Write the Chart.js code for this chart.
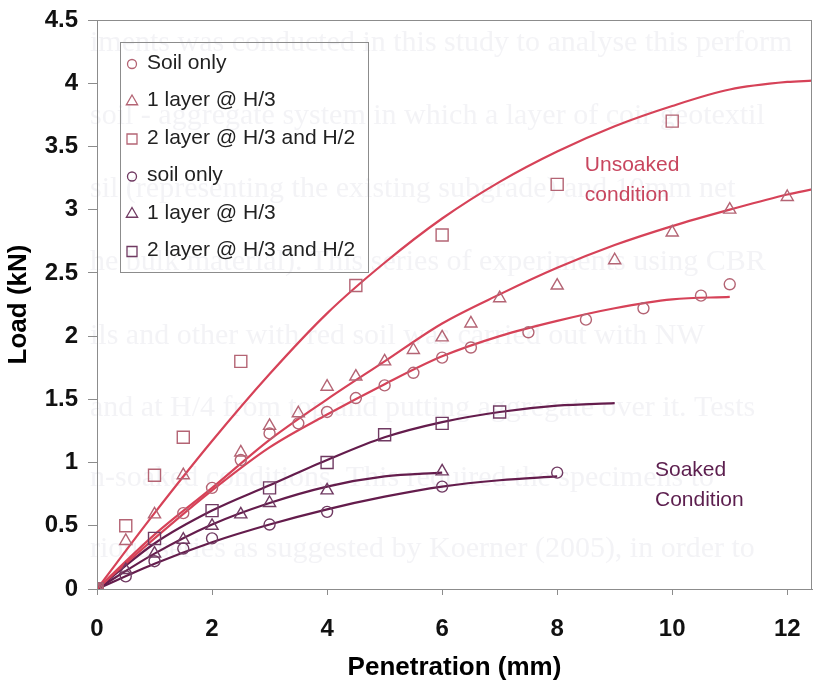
<!DOCTYPE html>
<html>
<head>
<meta charset="utf-8">
<script src="https://cdn.jsdelivr.net/npm/chart.js@4.4.1/dist/chart.umd.min.js"></script>
<style>
  html, body { margin: 0; padding: 0; background: #fff; }
  #wrap { width: 813px; height: 686px; }
</style>
</head>
<body>
<div id="wrap"><canvas id="chart" width="813" height="686"></canvas></div>
<script>
// ---------- measured points: unsoaked condition ----------
const unsoakedSoilX = [0, 1.5, 2, 2.5, 3, 3.5, 4, 4.5, 5, 5.5, 6, 6.5, 7.5, 8.5, 9.5, 10.5, 11];
const unsoakedSoilY = [0, 0.6, 0.8, 1.02, 1.23, 1.31, 1.4, 1.51, 1.61, 1.71, 1.83, 1.91, 2.03, 2.13, 2.22, 2.32, 2.41];
const unsoakedOneX = [0, 0.5, 1, 1.5, 2.5, 3, 3.5, 4, 4.5, 5, 5.5, 6, 6.5, 7, 8, 9, 10, 11, 12];
const unsoakedOneY = [0, 0.38, 0.59, 0.9, 1.08, 1.29, 1.39, 1.6, 1.68, 1.8, 1.89, 1.99, 2.1, 2.3, 2.4, 2.6, 2.82, 3.0, 3.1];
const unsoakedTwoX = [0, 0.5, 1, 1.5, 2.5, 4.5, 6, 8, 10];
const unsoakedTwoY = [0, 0.5, 0.9, 1.2, 1.8, 2.4, 2.8, 3.2, 3.7];

// ---------- measured points: soaked condition ----------
const soakedSoilX = [0, 0.5, 1, 1.5, 2, 3, 4, 6, 8];
const soakedSoilY = [0, 0.1, 0.22, 0.32, 0.4, 0.51, 0.61, 0.81, 0.92];
const soakedOneX = [0, 0.5, 1, 1.5, 2, 2.5, 3, 4, 6];
const soakedOneY = [0, 0.15, 0.28, 0.39, 0.5, 0.59, 0.68, 0.78, 0.93];
const soakedTwoX = [0, 1, 2, 3, 4, 5, 6, 7];
const soakedTwoY = [0, 0.4, 0.62, 0.8, 1.0, 1.22, 1.31, 1.4];

// ---------- fitted trend curves ----------
const unsoakedSoilFitX = [0, 1, 2, 3, 4, 5, 6, 7, 8, 9, 10, 11];
const unsoakedSoilFitY = [0, 0.4, 0.78, 1.12, 1.38, 1.62, 1.84, 2.0, 2.12, 2.22, 2.29, 2.31];
const unsoakedOneFitX = [0, 1, 2, 3, 4, 5, 6, 7, 8, 9, 10, 11, 12, 12.43];
const unsoakedOneFitY = [0, 0.43, 0.8, 1.18, 1.5, 1.8, 2.1, 2.33, 2.54, 2.72, 2.87, 3.0, 3.12, 3.16];
const unsoakedTwoFitX = [0, 1, 2, 3, 4, 5, 6, 7, 8, 9, 10, 11, 12, 12.43];
const unsoakedTwoFitY = [0, 0.6, 1.17, 1.7, 2.18, 2.58, 2.93, 3.22, 3.46, 3.66, 3.82, 3.95, 4.01, 4.02];
const soakedSoilFitX = [0, 1, 2, 3, 4, 5, 6, 7, 8];
const soakedSoilFitY = [0, 0.2, 0.37, 0.51, 0.63, 0.73, 0.81, 0.86, 0.89];
const soakedOneFitX = [0, 1, 2, 3, 4, 5, 6];
const soakedOneFitY = [0, 0.28, 0.51, 0.68, 0.81, 0.89, 0.92];
const soakedTwoFitX = [0, 1, 2, 3, 4, 5, 6, 7, 8, 9];
const soakedTwoFitY = [0, 0.36, 0.62, 0.82, 1.02, 1.2, 1.32, 1.4, 1.45, 1.47];

// axis ranges / ticks
const xMax = 12.43;
const xTicks = [0, 2, 4, 6, 8, 10, 12];
const yMax = 4.5;
const yStep = 0.5;

// faint text showing through from the reverse of the page
const pageTextLines = [
  "iments was conducted in this study to analyse this perform",
  "soil - aggregate system in which a layer of coir geotextil",
  "sil (representing the existing subgrade) and 10mm net",
  "he bulk material). This series of experiments using CBR",
  "ils and other with red soil was carried out with NW",
  "and at H/4 from top and putting aggregate over it. Tests",
  "n-soaked conditions. This required the specimens to",
  "rious series as suggested by Koerner (2005), in order to"
];

// ===============================
// Styles
// ===============================
const FONT = '"Liberation Sans", Arial, sans-serif';
const RED_LINE = "rgb(214, 66, 88)";
const RED_MARK = "rgb(180, 100, 116)";
const PURPLE_LINE = "rgb(100, 28, 76)";
const PURPLE_MARK = "rgb(112, 58, 98)";

const toPoints = (xs, ys) => xs.map((x, i) => ({ x, y: ys[i] }));

const markerSeries = [
  { label: "Soil only", xs: unsoakedSoilX, ys: unsoakedSoilY, style: "circle", color: RED_MARK },
  { label: "1 layer @ H/3", xs: unsoakedOneX, ys: unsoakedOneY, style: "triangle", color: RED_MARK },
  { label: "2 layer @ H/3 and H/2", xs: unsoakedTwoX, ys: unsoakedTwoY, style: "rect", color: RED_MARK },
  { label: "soil only", xs: soakedSoilX, ys: soakedSoilY, style: "circle", color: PURPLE_MARK },
  { label: "1 layer @ H/3", xs: soakedOneX, ys: soakedOneY, style: "triangle", color: PURPLE_MARK },
  { label: "2 layer @ H/3 and H/2", xs: soakedTwoX, ys: soakedTwoY, style: "rect", color: PURPLE_MARK }
];

const fitSeries = [
  { xs: unsoakedSoilFitX, ys: unsoakedSoilFitY, color: RED_LINE },
  { xs: unsoakedOneFitX, ys: unsoakedOneFitY, color: RED_LINE },
  { xs: unsoakedTwoFitX, ys: unsoakedTwoFitY, color: RED_LINE },
  { xs: soakedSoilFitX, ys: soakedSoilFitY, color: PURPLE_LINE },
  { xs: soakedOneFitX, ys: soakedOneFitY, color: PURPLE_LINE },
  { xs: soakedTwoFitX, ys: soakedTwoFitY, color: PURPLE_LINE }
];

const markerRadius = { circle: 5.5, triangle: 7, rect: 8.5 };

const datasets = [];
fitSeries.forEach(s => {
  datasets.push({
    data: toPoints(s.xs, s.ys),
    borderColor: s.color,
    borderWidth: 2.2,
    pointRadius: 0,
    showLine: true,
    cubicInterpolationMode: "monotone",
    fill: false,
    order: 2
  });
});
markerSeries.forEach(s => {
  datasets.push({
    label: s.label,
    data: toPoints(s.xs, s.ys),
    showLine: false,
    pointStyle: s.style,
    pointRadius: markerRadius[s.style],
    pointBorderColor: s.color,
    pointBackgroundColor: "rgba(0,0,0,0)",
    pointBorderWidth: 1.4,
    order: 1,
    isMarker: true
  });
});

// ===============================
// Plugins
// ===============================
const pageBackground = {
  id: "pageBackground",
  beforeDraw(chart) {
    const ctx = chart.ctx;
    ctx.save();
    ctx.fillStyle = "#fff";
    ctx.fillRect(0, 0, chart.width, chart.height);
    ctx.fillStyle = "rgba(150, 145, 170, 0.11)";
    ctx.font = '30px "Liberation Serif", serif';
    ctx.textBaseline = "middle";
    const rows = [43, 116, 189, 262, 336, 408, 478, 549];
    pageTextLines.forEach((t, i) => {
      ctx.fillText(t, 90, rows[i], chart.width - 90);
    });
    ctx.restore();
  }
};

const plotFrame = {
  id: "plotFrame",
  afterDraw(chart) {
    const { ctx, chartArea: a } = chart;
    ctx.save();
    ctx.strokeStyle = "#8c8c8c";
    ctx.lineWidth = 1;
    ctx.strokeRect(a.left + 0.5, a.top + 0.5, a.right - a.left - 1, a.bottom - a.top);
    ctx.restore();
  }
};

const drawMarker = (ctx, style, x, y, r) => {
  ctx.beginPath();
  if (style === "circle") {
    ctx.arc(x, y, r, 0, Math.PI * 2);
  } else if (style === "triangle") {
    ctx.moveTo(x, y - r);
    ctx.lineTo(x + r * 0.866, y + r * 0.5);
    ctx.lineTo(x - r * 0.866, y + r * 0.5);
    ctx.closePath();
  } else {
    ctx.rect(x - r, y - r, r * 2, r * 2);
  }
  ctx.stroke();
};

const boxLegend = {
  id: "boxLegend",
  afterDraw(chart) {
    const ctx = chart.ctx;
    ctx.save();
    ctx.strokeStyle = "#8c8c8c";
    ctx.lineWidth = 1;
    ctx.strokeRect(120.5, 42.5, 248, 230);
    ctx.font = "21px " + FONT;
    ctx.textBaseline = "middle";
    const items = chart.data.datasets.filter(d => d.isMarker);
    items.forEach((d, i) => {
      const y = 63 + i * 37.5;
      ctx.strokeStyle = d.pointBorderColor;
      ctx.lineWidth = 1.3;
      const r = d.pointStyle === "circle" ? 4.5 : d.pointStyle === "triangle" ? 6.5 : 5;
      drawMarker(ctx, d.pointStyle, 132, y + 1, r);
      ctx.fillStyle = "#222";
      ctx.fillText(d.label, 147, y);
    });
    ctx.restore();
  }
};

// condition labels placed in data units
const conditionNotes = [
  { lines: ["Unsoaked", "condition"], x: 8.48, y: 3.35, color: "rgb(200, 70, 95)" },
  { lines: ["Soaked", "Condition"], x: 9.7, y: 0.94, color: "rgb(92, 30, 78)" }
];

const noteLabels = {
  id: "noteLabels",
  afterDatasetsDraw(chart) {
    const { ctx, scales } = chart;
    ctx.save();
    ctx.font = "21px " + FONT;
    ctx.textBaseline = "middle";
    conditionNotes.forEach(n => {
      const px = scales.x.getPixelForValue(n.x);
      const py = scales.y.getPixelForValue(n.y);
      ctx.fillStyle = n.color;
      n.lines.forEach((t, i) => ctx.fillText(t, px, py + i * 30));
    });
    ctx.restore();
  }
};

// ===============================
// Chart
// ===============================
new Chart(document.getElementById("chart").getContext("2d"), {
  type: "line",
  data: { datasets },
  options: {
    responsive: false,
    animation: false,
    devicePixelRatio: 1,
    layout: { autoPadding: false, padding: { top: 20, right: 1, left: 0, bottom: 0 } },
    plugins: {
      legend: { display: false },
      tooltip: { enabled: false }
    },
    scales: {
      x: {
        type: "linear",
        min: 0,
        max: xMax,
        afterBuildTicks: s => { s.ticks = xTicks.map(v => ({ value: v })); },
        afterFit: s => {
          s.height = 97;
          s.paddingLeft = 0;
          s.paddingRight = 0;
        },
        ticks: { color: "#111", font: { family: FONT, size: 24, weight: "bold" }, padding: 20 },
        grid: { drawOnChartArea: false, tickLength: 6, tickColor: "#8c8c8c" },
        border: { color: "#8c8c8c" },
        title: {
          display: true,
          text: "Penetration (mm)",
          color: "#000",
          font: { family: FONT, size: 26, weight: "bold" },
          padding: { top: 0, bottom: 3 }
        }
      },
      y: {
        min: 0,
        max: yMax,
        afterFit: s => {
          s.width = 97;
          s.paddingTop = 0;
          s.paddingBottom = 0;
        },
        ticks: {
          stepSize: yStep,
          color: "#111",
          font: { family: FONT, size: 24, weight: "bold" },
          padding: 10,
          callback: v => String(v)
        },
        grid: { drawOnChartArea: false, tickLength: 9, tickColor: "#8c8c8c" },
        border: { color: "#8c8c8c" },
        title: {
          display: true,
          text: "Load (kN)",
          color: "#000",
          font: { family: FONT, size: 26, weight: "bold" },
          padding: { top: 3, bottom: 0 }
        }
      }
    }
  },
  plugins: [pageBackground, plotFrame, boxLegend, noteLabels]
});
</script>
</body>
</html>
